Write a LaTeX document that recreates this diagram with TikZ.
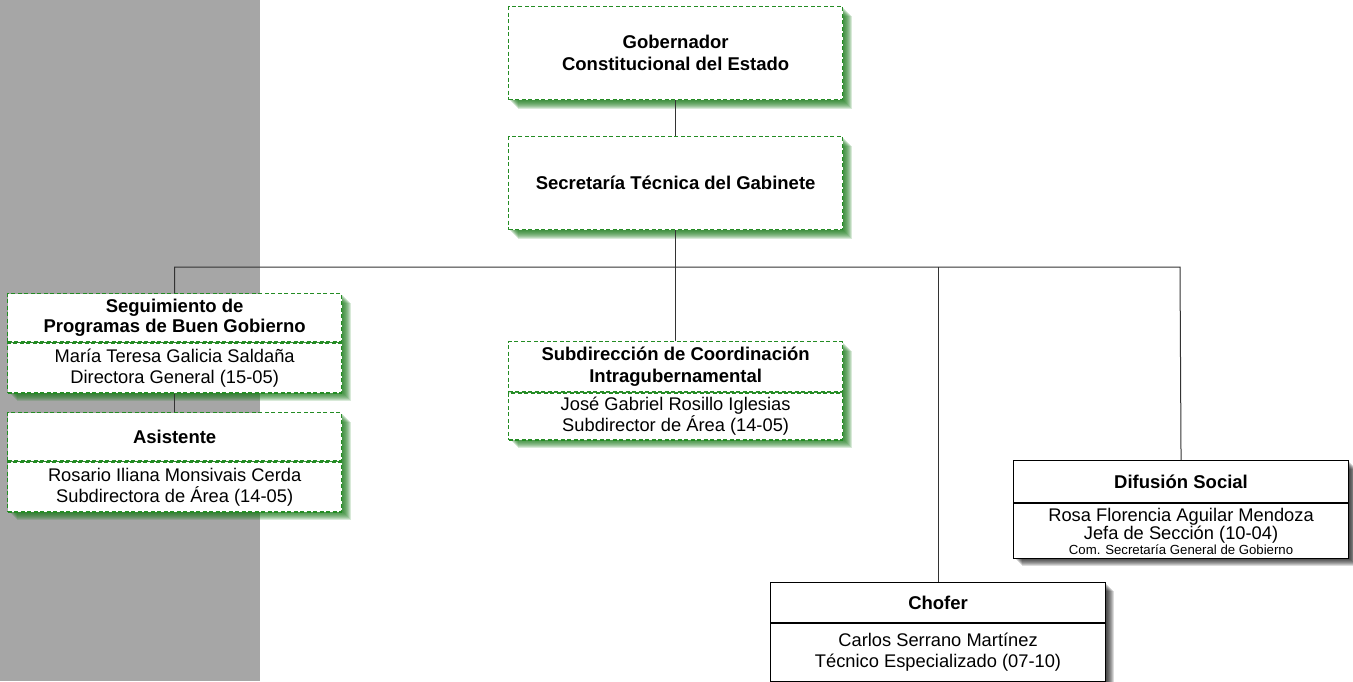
\documentclass[tikz,border=0pt]{standalone}
\usepackage{fontspec}
\setmainfont{Liberation Sans}
\definecolor{band}{HTML}{A6A6A6}
\definecolor{dgreen}{HTML}{238C23}
\definecolor{sgreen}{HTML}{1A7A1A}
\newcommand{\gshadow}[4]{\foreach \i in {1,...,10} {\fill[sgreen, opacity=0.17] (#1+\i,#2+\i) rectangle (#3+\i,#4+\i);}}
\newcommand{\kshadow}[4]{\foreach \i in {1,...,9} {\fill[black, opacity=0.14] (#1+\i,#2+\i) rectangle (#3+\i,#4+\i);}}
\begin{document}
\begin{tikzpicture}[x=1pt,y=-1pt,
  dbox/.style={draw=dgreen, dash pattern=on 4pt off 2.5pt, fill=white, line width=1.3pt, inner sep=0pt, align=center, anchor=north west},
  sbox/.style={draw=black, fill=white, line width=1.1pt, inner sep=0pt, align=center, anchor=north west},
  ttl/.style={font=\bfseries\fontsize{18.5}{22}\selectfont},
  ttls/.style={font=\bfseries\fontsize{18.5}{20}\selectfont},
  nm/.style={font=\fontsize{18.3}{21}\selectfont},
  nmt/.style={font=\fontsize{18.3}{16}\selectfont},
  conn/.style={draw=black!80, line width=1pt}]
\useasboundingbox (0,0) rectangle (1353,681);
\fill[band] (0,0) rectangle (260,681);
% shadows
\gshadow{508}{6}{842}{99}
\gshadow{508}{136}{842}{229}
\gshadow{7}{293}{341}{391}
\gshadow{7}{412}{341}{510}
\gshadow{508}{341}{842}{438}
\kshadow{1013}{460}{1348}{557}
\kshadow{770}{582}{1105}{680}
% boxes
\node[dbox, ttl, minimum width=334pt, minimum height=93pt] (gob) at (508,6) {Gobernador\\Constitucional del Estado};
\node[dbox, ttl, minimum width=334pt, minimum height=93pt] (sec) at (508,136) {Secretaría Técnica del Gabinete};
\node[dbox, ttls, minimum width=334pt, minimum height=48pt] (segT) at (7,293) {Seguimiento de\\Programas de Buen Gobierno};
\node[dbox, nm, minimum width=334pt, minimum height=50pt] (segB) at (segT.south west) {María Teresa Galicia Saldaña\\Directora General (15-05)};
\node[dbox, ttl, minimum width=334pt, minimum height=48pt] (asiT) at (7,412) {Asistente};
\node[dbox, nm, minimum width=334pt, minimum height=50pt] (asiB) at (asiT.south west) {Rosario Iliana Monsivais Cerda\\Subdirectora de Área (14-05)};
\node[dbox, ttl, minimum width=334pt, minimum height=50pt] (subT) at (508,341) {Subdirección de Coordinación\\Intragubernamental};
\node[dbox, nm, minimum width=334pt, minimum height=47pt] (subB) at (subT.south west) {José Gabriel Rosillo Iglesias\\Subdirector de Área (14-05)};
\node[sbox, ttl, minimum width=335pt, minimum height=42pt] (difT) at (1013,460) {Difusión Social};
\node[sbox, nmt, minimum width=335pt, minimum height=55pt] (difB) at (difT.south west) {Rosa Florencia Aguilar Mendoza\\Jefa de Sección (10-04)\\[-1.5pt]{\fontsize{13.2}{12}\selectfont Com. Secretaría General de Gobierno}};
\node[sbox, ttl, minimum width=335pt, minimum height=40pt] (choT) at (770,582) {Chofer};
\node[sbox, nm, minimum width=335pt, minimum height=58pt] (choB) at (choT.south west) {Carlos Serrano Martínez\\Técnico Especializado (07-10)};
% connectors
\coordinate (busR) at (1180,267);
\draw[conn] (gob.south) -- (sec.north);
\draw[conn] (sec.south) -- (subT.north);
\draw[conn] (segT.north) |- (busR) -- (difT.north);
\draw[conn] (choT.north) -- (choT.north |- busR);
\draw[conn] (segB.south) -- (asiT.north);
\end{tikzpicture}
\end{document}
